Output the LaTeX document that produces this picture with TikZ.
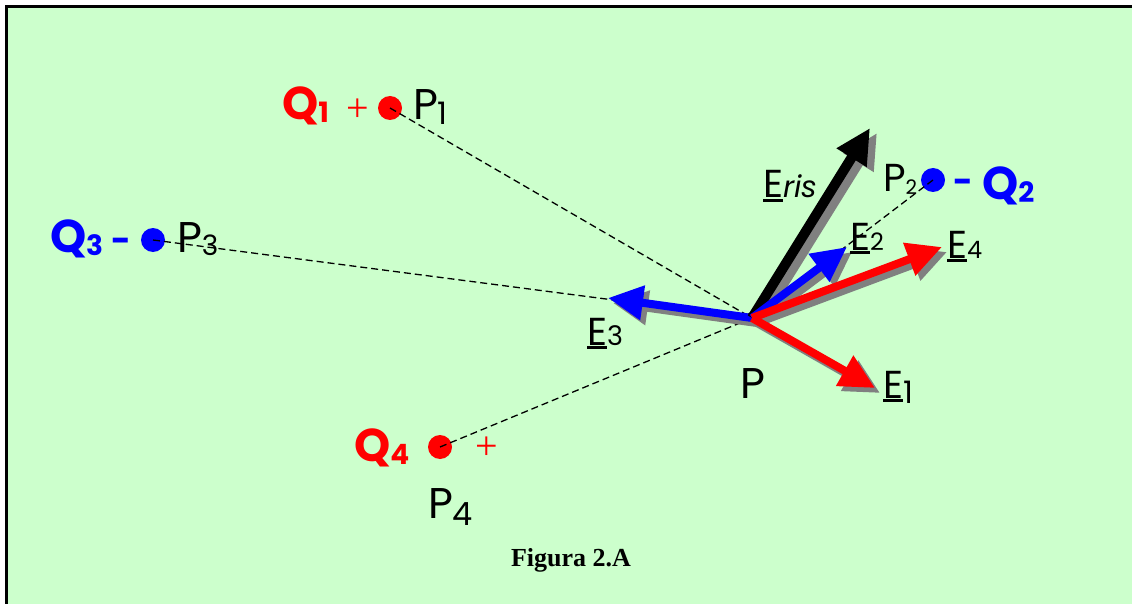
\documentclass[tikz,border=0pt]{standalone}
\usepackage{fontspec}
\setmainfont{Poppins}
\newfontfamily\figfont{Liberation Serif}
\usetikzlibrary{arrows.meta,calc}
\definecolor{bggreen}{HTML}{CCFFCC}
\definecolor{shadowgray}{HTML}{808080}
\newcommand\uE{\setbox0\hbox{E}\rlap{\rule[-4pt]{\wd0}{3pt}}\box0}
\newcommand\fs[1]{\fontsize{#1}{#1}\selectfont}
\begin{document}
\begin{tikzpicture}[x=1pt,y=-1pt,
  lab/.style={inner sep=0pt, outer sep=0pt, anchor=base west},
  qlab/.style={lab, font=\fs{46}\bfseries},
  plab/.style={lab, font=\fs{43}},
  elab/.style={lab, font=\fs{39}},
  sign/.style={inner sep=0pt, font=\figfont\fs{40}},
  minus/.style={inner sep=0pt, font=\fs{34}\bfseries},
  charge/.style={circle, inner sep=0pt, minimum size=24pt},
  conn/.style={dashed, dash pattern=on 7pt off 4pt, line width=1.3pt},
  vec/.style={line width=8pt, line cap=butt, -{Triangle[length=35pt,width=33pt]}},
  shade/.style={vec, draw=shadowgray},
]
\useasboundingbox (0,0) rectangle (1132,604);
\fill[bggreen] (7,7) rectangle (1132,604);
\draw[line width=2.5pt] (6.5,604) -- (6.5,6.5) -- (1132,6.5);

% charges
\node[charge, fill=red] (q1) at (390,108) {};
\node[charge, fill=blue] (q2) at (933,180) {};
\node[charge, fill=blue] (q3) at (153,240) {};
\node[charge, fill=red] (q4) at (440,447) {};
\node[circle, draw, line width=1.5pt, minimum size=11pt, inner sep=0pt] (P) at (752,318) {};

% dashed connectors
\draw[conn] (q1.center) -- (P.center);
\draw[conn] (q2.center) -- (P.center);
\draw[conn] (q3.center) -- (P.center);
\draw[conn] (q4.center) -- (P.center);

% vector tips
\coordinate (t3) at (608,298);
\coordinate (tr) at (870,128);
\coordinate (t2) at (847,247);
\coordinate (t4) at (942,247);
\coordinate (t1) at (875,388);

% vectors with shadows
\draw[shade] ($(P.center)+(5,5)$) -- ($(t3)+(5,5)$);
\draw[vec, draw=blue] (P.center) -- (t3);
\draw[shade, line width=10pt] ($(P.center)+(7,5)$) -- ($(tr)+(7,5)$);
\draw[vec, line width=10pt, draw=black] (P.center) -- (tr);
\draw[shade] ($(P.center)+(5,5)$) -- ($(t2)+(5,5)$);
\draw[vec, draw=blue] (P.center) -- (t2);
\draw[shade] ($(P.center)+(5,5)$) -- ($(t4)+(5,5)$);
\draw[vec, draw=red] (P.center) -- (t4);
\draw[shade] ($(P.center)+(5,5)$) -- ($(t1)+(5,5)$);
\draw[vec, draw=red] (P.center) -- (t1);

% charge labels
\node[qlab, text=red] (q1lab) at (282,120) {Q\raisebox{-3pt}{\fs{28}1}};
\node[sign, text=red] (q1sign) at (358,110) {+};
\node[plab] (p1lab) at (413,120) {P\raisebox{-5pt}{\fs{31}1}};

\node[qlab, text=blue] (q3lab) at (50,252) {Q\raisebox{-3pt}{\fs{28}3}};
\node[minus, text=blue] (q3sign) at (121,245) {-};
\node[plab] (p3lab) at (177,252) {P\raisebox{-3pt}{\fs{28}3}};

\node[qlab, text=red] (q4lab) at (354,461) {Q\raisebox{-3pt}{\fs{28}4}};
\node[sign, text=red] (q4sign) at (487,448) {+};
\node[plab] (p4lab) at (428,518) {P\raisebox{-7pt}{\fs{32}4}};

\node[qlab, text=blue] (q2lab) at (982,200) {Q\raisebox{-3pt}{\fs{28}2}};
\node[minus, text=blue] (q2sign) at (963,186) {-};
\node[lab, font=\fs{39}] (p2lab) at (883,192) {P\raisebox{-3pt}{\fs{20}2}};

% field labels
\node[elab] (e2lab) at (850,250) {\uE{\fs{24}2}};
\node[elab] (e4lab) at (947,258) {\uE{\fs{24}4}};
\node[elab] (e1lab) at (883,398) {\uE\raisebox{-5pt}{\fs{31}1}};
\node[elab] (e3lab) at (587,345) {\uE{\fs{27}3}};
\node[elab] (erislab) at (763,198) {\uE{\fs{30}\itshape ris}};
\node[plab] (plab0) at (740,398) {P};

\node[inner sep=0pt, font=\figfont\bfseries\fs{26}] (fig) at (571,560) {Figura 2.A};
\end{tikzpicture}
\end{document}
